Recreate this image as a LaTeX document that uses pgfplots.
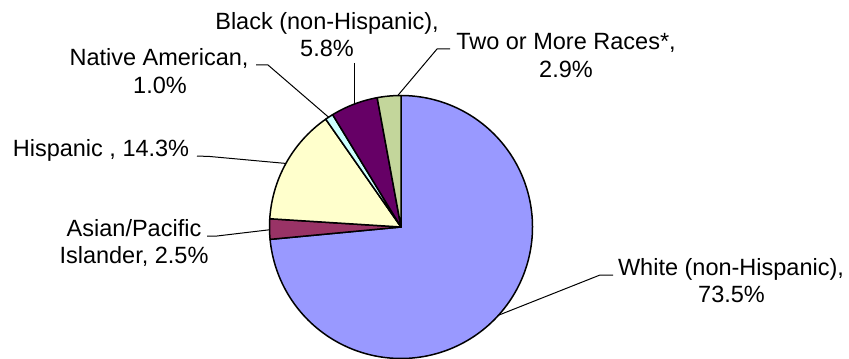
\documentclass[border=0pt]{standalone}
\usepackage{pgfplots}
\pgfplotsset{compat=1.18}
\usepackage{fontspec}
\setmainfont{Liberation Sans}
\definecolor{cWhite}{HTML}{9999FF}
\definecolor{cAsian}{HTML}{993366}
\definecolor{cHisp}{HTML}{FFFFCC}
\definecolor{cNative}{HTML}{CCFFFF}
\definecolor{cBlack}{HTML}{660066}
\definecolor{cTwo}{HTML}{C3D69B}
\tikzset{lbl/.style={anchor=base, inner sep=0pt, font=\fontsize{11.75}{13.5}\selectfont}}
% shares in percent (clockwise from 12 o'clock)
\def\vWhite{73.5}
\def\vAsian{2.5}
\def\vHisp{14.3}
\def\vNative{1.0}
\def\vBlack{5.8}
\def\vTwo{2.9}
\begin{document}
\begin{tikzpicture}
\pgfmathsetmacro\aA{90}
\pgfmathsetmacro\aB{\aA-3.6*\vWhite}
\pgfmathsetmacro\aC{\aB-3.6*\vAsian}
\pgfmathsetmacro\aD{\aC-3.6*\vHisp}
\pgfmathsetmacro\aE{\aD-3.6*\vNative}
\pgfmathsetmacro\aF{\aE-3.6*\vBlack}
\pgfmathsetmacro\aG{\aF-3.6*\vTwo}
\begin{axis}[width=424.5pt, height=179pt, scale only axis,
  xmin=0, xmax=849, ymin=0, ymax=358, y dir=reverse,
  hide axis, clip=false]
% leader lines
\addplot[black, line width=0.5pt, mark=none] coordinates {(394,100) (437,49) (450,49)};
\addplot[black, line width=0.5pt, mark=none] coordinates {(354,63) (354,108)};
\addplot[black, line width=0.5pt, mark=none] coordinates {(256,65) (268,65) (333,121)};
\addplot[black, line width=0.5pt, mark=none] coordinates {(197,156) (210,156.5) (292,164)};
\addplot[black, line width=0.5pt, mark=none] coordinates {(207,236) (217,236) (276,229)};
\addplot[black, line width=0.5pt, mark=none] coordinates {(494,317) (600,275) (613,275)};
% wedges
\addplot[fill=cWhite, draw=black, line width=0.75pt, line join=round, domain=\aB:\aA, samples=160, variable=\t] ({401+131.5*cos(\t)},{227-131.5*sin(\t)}) -- (axis cs:401,227) -- cycle;
\addplot[fill=cAsian, draw=black, line width=0.75pt, line join=round, domain=\aC:\aB, samples=12, variable=\t] ({401+131.5*cos(\t)},{227-131.5*sin(\t)}) -- (axis cs:401,227) -- cycle;
\addplot[fill=cHisp, draw=black, line width=0.75pt, line join=round, domain=\aD:\aC, samples=40, variable=\t] ({401+131.5*cos(\t)},{227-131.5*sin(\t)}) -- (axis cs:401,227) -- cycle;
\addplot[fill=cNative, draw=black, line width=0.75pt, line join=round, domain=\aE:\aD, samples=6, variable=\t] ({401+131.5*cos(\t)},{227-131.5*sin(\t)}) -- (axis cs:401,227) -- cycle;
\addplot[fill=cBlack, draw=black, line width=0.75pt, line join=round, domain=\aF:\aE, samples=20, variable=\t] ({401+131.5*cos(\t)},{227-131.5*sin(\t)}) -- (axis cs:401,227) -- cycle;
\addplot[fill=cTwo, draw=black, line width=0.75pt, line join=round, domain=\aG:\aF, samples=12, variable=\t] ({401+131.5*cos(\t)},{227-131.5*sin(\t)}) -- (axis cs:401,227) -- cycle;
% labels
\node[lbl] at (axis cs:327,30) {Black (non-Hispanic),};
\node[lbl] at (axis cs:327,57) {5.8\%};
\node[lbl] at (axis cs:566,49.5) {Two or More Races*,};
\node[lbl] at (axis cs:566,77) {2.9\%};
\node[lbl] at (axis cs:159,66) {Native American,};
\node[lbl] at (axis cs:160,93.5) {1.0\%};
\node[lbl] at (axis cs:101,156) {Hispanic , 14.3\%};
\node[lbl] at (axis cs:134,236) {Asian/Pacific};
\node[lbl] at (axis cs:134,263) {Islander, 2.5\%};
\node[lbl] at (axis cs:731,275) {White (non-Hispanic),};
\node[lbl] at (axis cs:731.5,302) {73.5\%};
\end{axis}
\pgfresetboundingbox
\path (0,0) rectangle (424.5pt,179pt);
\end{tikzpicture}
\end{document}
